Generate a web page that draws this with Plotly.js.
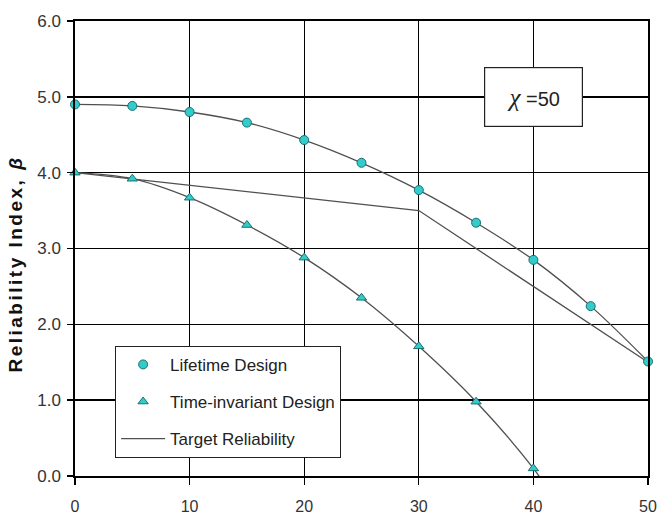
<!DOCTYPE html>
<html>
<head>
<meta charset="utf-8">
<script src="https://cdn.plot.ly/plotly-3.0.1.min.js"></script>
<style>html,body{margin:0;padding:0;background:#fff;}#chart{width:657px;height:515px;}</style>
</head>
<body>
<div id="chart"></div>
<script>
// Data
var lifetimeX = [0, 5, 10, 15, 20, 25, 30, 35, 40, 45, 50];
var lifetimeY = [4.90, 4.88, 4.80, 4.66, 4.43, 4.13, 3.77, 3.34, 2.85, 2.24, 1.51];

var timeInvX = [0, 5, 10, 15, 20, 25, 30, 35, 40];
var timeInvY = [4.00, 3.92, 3.67, 3.31, 2.88, 2.35, 1.71, 0.98, 0.10];
// trend line continues slightly past the last marker
var timeInvLineX = [0, 5, 10, 15, 20, 25, 30, 35, 40, 41];
var timeInvLineY = [4.00, 3.92, 3.67, 3.31, 2.88, 2.35, 1.71, 0.98, 0.10, -0.12];

var targetX = [0, 30, 50];
var targetY = [4.0, 3.5, 1.5];

var xTicks = [0, 10, 20, 30, 40, 50];
var yTicks = [0, 1, 2, 3, 4, 5, 6];

var markerFill = '#33CCCC';
var markerEdge = '#1a6f6f';
var curveColor = '#505050';
var sans = 'Liberation Sans, Arial, sans-serif';

var traces = [
  {x: lifetimeX, y: lifetimeY, mode: 'lines', line: {color: curveColor, width: 1.3, shape: 'spline'}, showlegend: false, hoverinfo: 'skip'},
  {x: timeInvLineX, y: timeInvLineY, mode: 'lines', line: {color: curveColor, width: 1.3, shape: 'spline'}, showlegend: false, hoverinfo: 'skip'},
  {x: targetX, y: targetY, mode: 'lines', name: 'Target Reliability', legendgroup: 'c', legendrank: 3,
   line: {color: curveColor, width: 1.3}},
  {x: lifetimeX, y: lifetimeY, mode: 'markers', name: 'Lifetime Design', legendgroup: 'a', legendrank: 1,
   marker: {symbol: 'circle', size: 9, color: markerFill, line: {color: markerEdge, width: 1}}, cliponaxis: false},
  {x: timeInvX, y: timeInvY, mode: 'markers', name: 'Time-invariant Design', legendgroup: 'b', legendrank: 2,
   marker: {symbol: 'triangle-up', size: 9, color: markerFill, line: {color: markerEdge, width: 1}}, cliponaxis: false}
];

var layout = {
  width: 657, height: 515,
  margin: {l: 75, r: 9, t: 21, b: 39},
  paper_bgcolor: '#ffffff', plot_bgcolor: '#ffffff',
  font: {family: sans, size: 16, color: '#333333'},
  xaxis: {
    range: [0, 50], tickvals: xTicks, ticktext: xTicks.map(String),
    showgrid: true, gridcolor: '#000000', gridwidth: 1.4,
    zeroline: false, showline: true, linecolor: '#000000', linewidth: 1.6, mirror: true,
    ticks: 'outside', ticklen: 7, tickwidth: 1.4, tickcolor: '#000000',
    ticklabelstandoff: 8,
    tickfont: {family: sans, size: 16, color: '#333333'}, fixedrange: true
  },
  yaxis: {
    range: [0, 6], tickvals: yTicks, ticktext: yTicks.map(function(v){return v.toFixed(1);}),
    showgrid: true, gridcolor: '#000000', gridwidth: 1.4,
    zeroline: false, showline: true, linecolor: '#000000', linewidth: 1.6, mirror: true,
    ticks: 'outside', ticklen: 6, tickwidth: 1.4, tickcolor: '#000000',
    ticklabelstandoff: 3,
    tickfont: {family: sans, size: 17, color: '#333333'}, fixedrange: true,
    title: {text: '<b><span style="letter-spacing:2.5px">Reliability Index, <i>β</i>&nbsp;&nbsp;&nbsp;&nbsp;</span></b>',
            font: {family: sans, size: 19, color: '#111111'}, standoff: 10}
  },
  legend: {
    x: 0.07, y: 0.286, xanchor: 'left', yanchor: 'top',
    bgcolor: '#ffffff', bordercolor: '#222222', borderwidth: 1,
    font: {family: sans, size: 17, color: '#222222'},
    itemwidth: 44,
    traceorder: 'grouped', tracegroupgap: 12
  },
  annotations: [{
    x: 40, y: 5, xref: 'x', yref: 'y', showarrow: false,
    text: '<span style="font-family:Liberation Serif;font-style:italic;font-size:25px">χ</span> =50',
    font: {family: sans, size: 20, color: '#222222'},
    bgcolor: '#ffffff', bordercolor: '#222222', borderwidth: 1.2,
    width: 95, height: 56, align: 'center', valign: 'middle'
  }],
  showlegend: true
};

Plotly.newPlot('chart', traces, layout, {staticPlot: true});
</script>
</body>
</html>
